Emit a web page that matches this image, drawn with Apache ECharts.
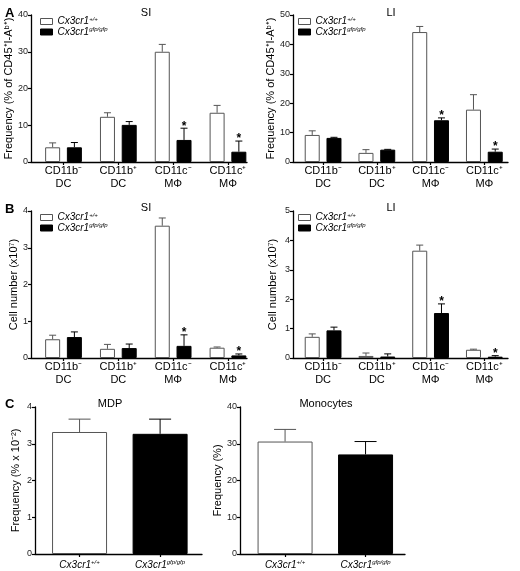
<!DOCTYPE html>
<html>
<head>
<meta charset="utf-8">
<script src="https://cdn.jsdelivr.net/npm/echarts@6/dist/echarts.min.js"></script>
<style>
html,body{margin:0;padding:0;background:#fff;}
#chart{width:520px;height:571px;}
</style>
</head>
<body>
<div id="chart"></div>
<script>
// ---------- DATA ----------
const groups = ['CD11b⁻\nDC', 'CD11b⁺\nDC', 'CD11c⁻\nMΦ', 'CD11c⁺\nMΦ'];
const genoBase = ['Cx3cr1', 'Cx3cr1'];
const genoSup = ['+/+', 'gfp/gfp'];

// A: frequency (% of CD45+ I-Ab+)
const aSiWT = [4.0, 12.3, 30.0, 13.4];
const aSiWTErr = [1.2, 1.1, 2.0, 2.0];
const aSiKO = [4.0, 10.1, 6.0, 2.8];
const aSiKOErr = [1.3, 0.9, 3.2, 2.9];
const aSiSig = [0, 0, 1, 1];

const aLiWT = [9.2, 3.1, 44.2, 17.8];
const aLiWTErr = [1.4, 1.1, 1.9, 5.1];
const aLiKO = [8.2, 4.2, 14.2, 3.5];
const aLiKOErr = [0.2, 0.1, 0.8, 0.9];
const aLiSig = [0, 0, 1, 1];

// B: cell number (x10^7)
const bSiWT = [0.51, 0.25, 3.60, 0.28];
const bSiWTErr = [0.11, 0.12, 0.21, 0.02];
const bSiKO = [0.57, 0.27, 0.33, 0.07];
const bSiKOErr = [0.14, 0.11, 0.30, 0.04];
const bSiSig = [0, 0, 1, 1];

const bLiWT = [0.72, 0.07, 3.65, 0.28];
const bLiWTErr = [0.10, 0.10, 0.19, 0.02];
const bLiKO = [0.94, 0.05, 1.53, 0.045];
const bLiKOErr = [0.11, 0.09, 0.31, 0.035];
const bLiSig = [0, 0, 1, 1];

// C
const cMdp = [3.32, 3.27];
const cMdpErr = [0.35, 0.40];
const cMono = [30.6, 27.1];
const cMonoErr = [3.3, 3.5];

// ---------- STYLE ----------
const FONT = 'Liberation Sans, Arial, Helvetica, sans-serif';
const BAR_W = 15, BAR_GAP = 0.45;
const PAIR_OFF = BAR_W * (1 + BAR_GAP) / 2;
const WT_STYLE = {color: '#fff', borderColor: '#555', borderWidth: 1};
const KO_STYLE = {color: '#000', borderColor: '#000', borderWidth: 1};

const chart = echarts.init(document.getElementById('chart'), null, {renderer: 'canvas'});

const grids = [
  {left: 31, top: 15, width: 216, height: 147},
  {left: 293, top: 15, width: 215, height: 147},
  {left: 31, top: 211, width: 216, height: 147},
  {left: 293, top: 211, width: 215, height: 147},
  {left: 35, top: 407, width: 167, height: 147},
  {left: 240, top: 407, width: 165, height: 147}
];
const xRanges = [[-0.593, 3.347], [-0.56, 3.44], [-0.593, 3.347], [-0.56, 3.44], [-0.553, 1.52], [-0.56, 1.49]];
const yMax = [40, 50, 4, 5, 4, 40];
const yInt = [10, 10, 1, 1, 1, 10];
const yNames = ['Frequency (% of CD45⁺I-Aᵇ⁺)', 'Frequency (% of CD45⁺I-Aᵇ⁺)', 'Cell number (x10⁷)', 'Cell number (x10⁷)', 'Frequency (% x 10⁻²)', 'Frequency (%)'];
const yNameGap = [10, 14, 11, 15, 14, 17];

const axisLine = {show: true, onZero: false, lineStyle: {color: '#000', width: 1.3}};
const axisTick = {show: true, inside: false, length: 3, lineStyle: {color: '#000', width: 1.2}};

const xAxes = grids.map((g, i) => {
  const isC = i >= 4;
  const ticks = isC ? [0, 1] : [0, 1, 2, 3];
  return {
    type: 'value', gridIndex: i, min: xRanges[i][0], max: xRanges[i][1],
    axisLine: axisLine,
    axisTick: Object.assign({}, axisTick, {customValues: ticks}),
    splitLine: {show: false},
    axisLabel: isC ? {
      customValues: ticks, margin: 5,
      formatter: v => '{i|' + genoBase[Math.round(v)] + '}{s|' + genoSup[Math.round(v)] + '}',
      rich: {
        i: {fontFamily: FONT, fontSize: 10, fontStyle: 'italic', color: '#000', lineHeight: 12},
        s: {fontFamily: FONT, fontSize: 6, fontStyle: 'italic', color: '#000', lineHeight: 7, verticalAlign: 'top'}
      }
    } : {
      customValues: ticks, margin: 2,
      formatter: v => groups[Math.round(v)],
      fontFamily: FONT, fontSize: 11, color: '#000', lineHeight: 13
    }
  };
});

const yAxes = grids.map((g, i) => ({
  type: 'value', gridIndex: i, min: 0, max: yMax[i], interval: yInt[i],
  axisLine: axisLine, axisTick: axisTick, splitLine: {show: false},
  axisLabel: {fontFamily: FONT, fontSize: 9, color: '#222', margin: 3},
  name: yNames[i], nameLocation: 'middle', nameGap: yNameGap[i], nameRotate: 90,
  nameTextStyle: {fontFamily: FONT, fontSize: 11, color: '#000'}
}));

function errRender(offset, capHalf, color) {
  return function (params, api) {
    const x = api.value(0), v = api.value(1), hi = api.value(2), star = api.value(3);
    const p0 = api.coord([x, v]);
    const p1 = api.coord([x, hi]);
    const cx = p0[0] + offset;
    const ch = [
      {type: 'line', shape: {x1: cx, y1: p0[1], x2: cx, y2: p1[1]}, style: {stroke: color, lineWidth: 1}},
      {type: 'line', shape: {x1: cx - capHalf, y1: p1[1], x2: cx + capHalf, y2: p1[1]}, style: {stroke: color, lineWidth: 1}}
    ];
    if (star) {
      ch.push({type: 'text', x: cx, y: p1[1] + 4,
        style: {text: '*', align: 'center', verticalAlign: 'bottom', font: 'bold 12px ' + FONT, fill: '#000'}});
    }
    return {type: 'group', children: ch};
  };
}

function pairSeries(gi, wt, wtErr, ko, koErr, sig) {
  return [
    {type: 'bar', name: 'WT', xAxisIndex: gi, yAxisIndex: gi, barWidth: BAR_W, barGap: (BAR_GAP * 100) + '%',
      itemStyle: WT_STYLE, data: wt.map((v, i) => [i, v]), silent: true},
    {type: 'bar', name: 'KO', xAxisIndex: gi, yAxisIndex: gi, barWidth: BAR_W, barGap: (BAR_GAP * 100) + '%',
      itemStyle: KO_STYLE, data: ko.map((v, i) => [i, v]), silent: true},
    {type: 'custom', name: 'errWT', xAxisIndex: gi, yAxisIndex: gi, z: 3, silent: true,
      renderItem: errRender(-PAIR_OFF, 3.5, '#555'), data: wt.map((v, i) => [i, v, v + wtErr[i], 0])},
    {type: 'custom', name: 'errKO', xAxisIndex: gi, yAxisIndex: gi, z: 3, silent: true,
      renderItem: errRender(PAIR_OFF, 3.5, '#000'), data: ko.map((v, i) => [i, v, v + koErr[i], sig[i]])}
  ];
}

function singleSeries(gi, vals, errs) {
  return [
    {type: 'bar', name: 'C' + gi, xAxisIndex: gi, yAxisIndex: gi, barWidth: 55, silent: true,
      data: vals.map((v, i) => ({value: [i, v], itemStyle: i === 0 ? WT_STYLE : KO_STYLE}))},
    {type: 'custom', name: 'errWT' + gi, xAxisIndex: gi, yAxisIndex: gi, z: 3, silent: true,
      renderItem: errRender(0, 11, '#555'), data: [[0, vals[0], vals[0] + errs[0], 0]]},
    {type: 'custom', name: 'errKO' + gi, xAxisIndex: gi, yAxisIndex: gi, z: 3, silent: true,
      renderItem: errRender(0, 11, '#000'), data: [[1, vals[1], vals[1] + errs[1], 0]]}
  ];
}

const series = [].concat(
  pairSeries(0, aSiWT, aSiWTErr, aSiKO, aSiKOErr, aSiSig),
  pairSeries(1, aLiWT, aLiWTErr, aLiKO, aLiKOErr, aLiSig),
  pairSeries(2, bSiWT, bSiWTErr, bSiKO, bSiKOErr, bSiSig),
  pairSeries(3, bLiWT, bLiWTErr, bLiKO, bLiKOErr, bLiSig),
  singleSeries(4, cMdp, cMdpErr),
  singleSeries(5, cMono, cMonoErr)
);

const legendText = {
  fontFamily: FONT, fontSize: 10, fontStyle: 'italic', color: '#000',
  rich: {
    i: {fontFamily: FONT, fontSize: 10, fontStyle: 'italic', color: '#000', lineHeight: 11},
    s: {fontFamily: FONT, fontSize: 6, fontStyle: 'italic', color: '#000', lineHeight: 7, verticalAlign: 'top'}
  }
};
function mkLegend(left, top) {
  return {
    data: ['WT', 'KO'], left: left, top: top, orient: 'vertical', itemWidth: 12, itemHeight: 6, itemGap: 0,
    selectedMode: false, padding: 0, icon: 'rect',
    itemStyle: {borderWidth: 1},
    formatter: n => '{i|' + genoBase[n === 'WT' ? 0 : 1] + '}{s|' + genoSup[n === 'WT' ? 0 : 1] + '}',
    textStyle: legendText
  };
}

function ttl(text, left, top, bold, size) {
  return {text: text, left: left, top: top, padding: 0, textAlign: bold ? 'left' : 'center',
    textStyle: {fontFamily: FONT, fontSize: size, fontWeight: bold ? 'bold' : 'normal', color: '#000'}};
}

chart.setOption({
  animation: false,
  backgroundColor: '#fff',
  title: [
    ttl('A', 5, 7, true, 13), ttl('B', 5, 203, true, 13), ttl('C', 5, 398, true, 13),
    ttl('SI', 146, 7, false, 11), ttl('LI', 391, 7, false, 11),
    ttl('SI', 146, 202, false, 11), ttl('LI', 391, 202, false, 11),
    ttl('MDP', 110, 398, false, 11), ttl('Monocytes', 326, 398, false, 11)
  ],
  legend: [mkLegend(40, 16), mkLegend(298, 16), mkLegend(40, 212), mkLegend(298, 212)],
  grid: grids,
  xAxis: xAxes,
  yAxis: yAxes,
  series: series
});
</script>
</body>
</html>
